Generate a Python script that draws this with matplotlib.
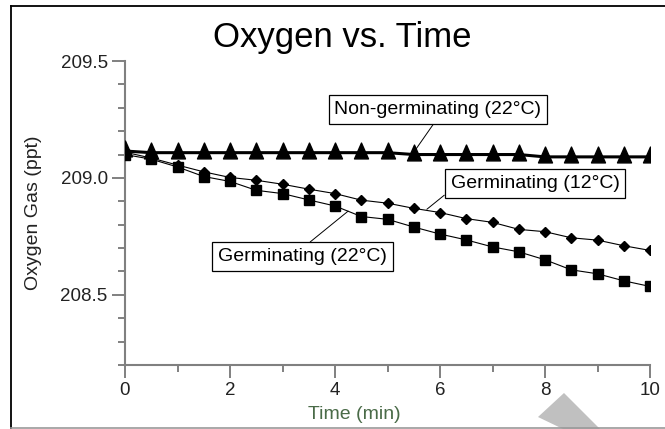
import matplotlib
matplotlib.use("Agg")
import matplotlib.pyplot as plt
from matplotlib.ticker import MultipleLocator, FormatStrFormatter
from matplotlib.lines import Line2D
from matplotlib.patches import Polygon
from matplotlib.path import Path

plt.rcParams['font.family'] = ['Liberation Sans', 'DejaVu Sans']

# time in minutes
time_min = [0.0, 0.5, 1.0, 1.5, 2.0, 2.5, 3.0, 3.5, 4.0, 4.5, 5.0,
            5.5, 6.0, 6.5, 7.0, 7.5, 8.0, 8.5, 9.0, 9.5, 10.0]

# oxygen gas (ppt)
non_germ_22 = [209.115, 209.108, 209.108, 209.108, 209.108, 209.108, 209.108,
               209.108, 209.108, 209.108, 209.108, 209.100, 209.100, 209.100,
               209.100, 209.100, 209.090, 209.090, 209.090, 209.090, 209.090]
germ_12 = [209.110, 209.085, 209.055, 209.026, 209.002, 208.990, 208.973,
           208.952, 208.933, 208.905, 208.892, 208.870, 208.852, 208.826,
           208.810, 208.780, 208.770, 208.744, 208.734, 208.710, 208.690]
germ_22 = [209.100, 209.080, 209.047, 209.006, 208.985, 208.947, 208.933,
           208.906, 208.880, 208.835, 208.823, 208.790, 208.760, 208.735,
           208.705, 208.684, 208.650, 208.607, 208.590, 208.560, 208.536]

labels = ["Non-germinating (22°C)", "Germinating (12°C)", "Germinating (22°C)"]

W, H = 665, 429
fig = plt.figure(figsize=(6.65, 4.29), dpi=100)
ax = fig.add_axes([125 / W, 1 - 365 / H, 525 / W, 304 / H])

# triangle with its base close to the data point, like the original logger plot
tri = Path([(0, 1), (-0.67, -0.52), (0.67, -0.52), (0, 1)],
           [Path.MOVETO, Path.LINETO, Path.LINETO, Path.CLOSEPOLY])

ax.plot(time_min, germ_22, color='k', lw=0.8, marker='s', ms=7.2, zorder=3)
ax.plot(time_min, germ_12, color='k', lw=0.8, marker='D', ms=5.2, zorder=3)
ax.plot(time_min, non_germ_22, color='k', lw=2.2, marker=tri, ms=15, zorder=4)

ax.set_xlim(0, 10)
ax.set_ylim(208.2, 209.5)
ax.xaxis.set_major_locator(MultipleLocator(2))
ax.xaxis.set_minor_locator(MultipleLocator(1))
ax.yaxis.set_major_locator(MultipleLocator(0.5))
ax.yaxis.set_minor_locator(MultipleLocator(0.1))
ax.yaxis.set_major_formatter(FormatStrFormatter('%.1f'))

for s in ['top', 'right']:
    ax.spines[s].set_visible(False)
for s in ['left', 'bottom']:
    ax.spines[s].set_color('#808080')
    ax.spines[s].set_linewidth(1.5)
ax.tick_params(which='major', length=9.5, width=1.4, color='#808080',
               labelsize=13.5, labelcolor='#222222', pad=3)
ax.tick_params(which='minor', length=5, width=1.4, color='#808080')

ax.set_xlabel("Time (min)", fontsize=14, color='#4a6b48')
ax.xaxis.set_label_coords(0.436, -0.135)
ax.set_ylabel("Oxygen Gas (ppt)", fontsize=14, color='#222222')
ax.yaxis.set_label_coords(-0.158, 0.5)

box = dict(boxstyle='square,pad=0.3', fc='white', ec='k', lw=0.9)
ax.annotate(labels[0], xy=(5.47, 209.10), xytext=(5.96, 209.294),
            fontsize=14, ha='center', va='center', bbox=box, zorder=5,
            arrowprops=dict(arrowstyle='-', color='k', lw=0.7,
                            relpos=(0.5, 0), shrinkA=0, shrinkB=0))
ax.annotate(labels[1], xy=(5.75, 208.866), xytext=(7.81, 208.977),
            fontsize=14, ha='center', va='center', bbox=box, zorder=5,
            arrowprops=dict(arrowstyle='-', color='k', lw=0.7,
                            relpos=(0, 0.1), shrinkA=0, shrinkB=0))
ax.annotate(labels[2], xy=(4.25, 208.858), xytext=(3.38, 208.663),
            fontsize=14, ha='center', va='center', bbox=box, zorder=5,
            arrowprops=dict(arrowstyle='-', color='k', lw=0.7,
                            relpos=(0.5, 1), shrinkA=0, shrinkB=0))

fig.text(342 / W, 1 - 37 / H, "Oxygen vs. Time", fontsize=25,
         ha='center', va='center')

# outer frame of the original screenshot
fig.add_artist(Line2D([11 / W, 11 / W], [1 - 6 / H, 0.5 / H], color='k', lw=1.3))
fig.add_artist(Line2D([11 / W, 1.0], [1 - 6 / H, 1 - 6 / H], color='k', lw=1.3))
fig.add_artist(Line2D([11 / W, 1.0], [0.8 / H, 0.8 / H], color='#999999', lw=1.2))

# grey shape at the bottom edge
pts = [(564, 393), (538, 417), (563, 429), (600, 429)]
fig.add_artist(Polygon([(x / W, 1 - y / H) for x, y in pts], closed=True,
                       fc='#c0c0c0', ec='none', transform=fig.transFigure))

fig.savefig("out.png", dpi=100)
